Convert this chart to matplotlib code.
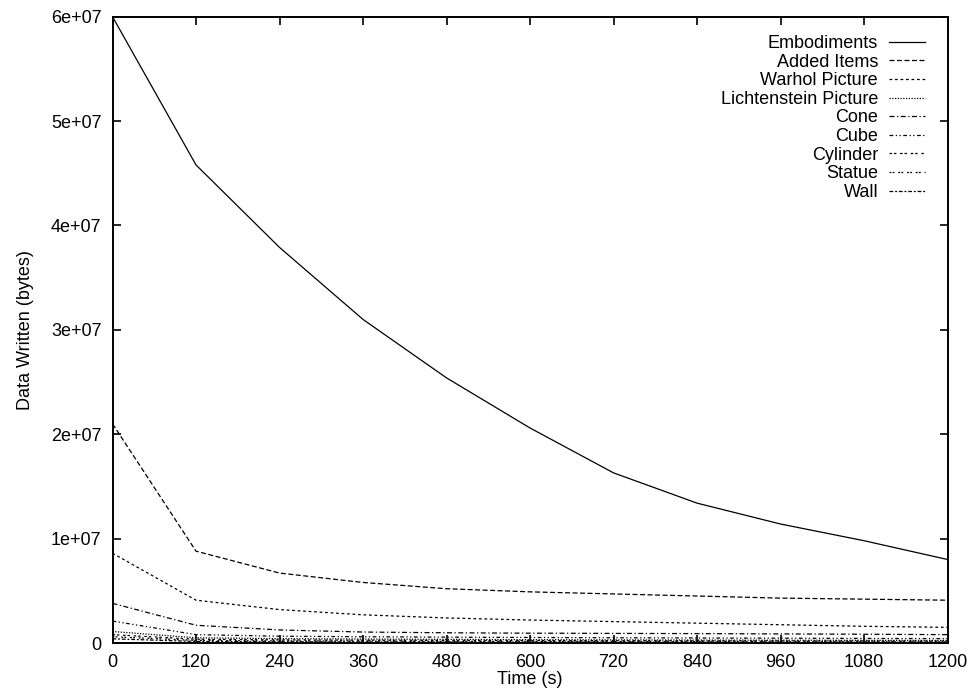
import matplotlib
matplotlib.use("Agg")
import matplotlib.pyplot as plt

plt.rcParams['font.family'] = ['Liberation Sans', 'DejaVu Sans']

time_s = [0, 120, 240, 360, 480, 600, 720, 840, 960, 1080, 1200]

embodiments = [6.0e7, 4.58e7, 3.79e7, 3.10e7, 2.54e7, 2.06e7, 1.63e7, 1.34e7, 1.14e7, 0.98e7, 0.80e7]
added_items = [2.10e7, 0.88e7, 0.67e7, 0.58e7, 0.52e7, 0.49e7, 0.47e7, 0.45e7, 0.43e7, 0.42e7, 0.41e7]
warhol = [8.6e6, 4.1e6, 3.2e6, 2.7e6, 2.4e6, 2.2e6, 2.05e6, 1.9e6, 1.75e6, 1.6e6, 1.5e6]
lichtenstein = [1.1e6, 0.5e6, 0.42e6, 0.38e6, 0.35e6, 0.32e6, 0.3e6, 0.28e6, 0.27e6, 0.26e6, 0.25e6]
cone = [3.8e6, 1.7e6, 1.25e6, 1.05e6, 0.98e6, 0.94e6, 0.92e6, 0.9e6, 0.87e6, 0.84e6, 0.8e6]
cube = [2.1e6, 0.8e6, 0.65e6, 0.6e6, 0.56e6, 0.53e6, 0.5e6, 0.48e6, 0.46e6, 0.44e6, 0.42e6]
cylinder = [0.8e6, 0.36e6, 0.3e6, 0.27e6, 0.25e6, 0.23e6, 0.22e6, 0.21e6, 0.2e6, 0.19e6, 0.18e6]
statue = [0.6e6, 0.25e6, 0.2e6, 0.18e6, 0.16e6, 0.15e6, 0.14e6, 0.13e6, 0.12e6, 0.12e6, 0.11e6]
wall = [0.4e6, 0.15e6, 0.12e6, 0.1e6, 0.09e6, 0.08e6, 0.08e6, 0.07e6, 0.07e6, 0.06e6, 0.06e6]

series_names = ["Embodiments", "Added Items", "Warhol Picture", "Lichtenstein Picture",
                "Cone", "Cube", "Cylinder", "Statue", "Wall"]
series_values = [embodiments, added_items, warhol, lichtenstein, cone, cube, cylinder, statue, wall]
styles = ['-', (0, (4, 2)), (0, (2.2, 2.2)), (0, (1, 1.2)), (0, (4, 2, 1, 2)),
          (0, (3, 2, 1, 2, 1, 2)), (0, (2, 1.5, 2, 3)), (0, (1.5, 1, 1.5, 3)), (0, (3, 1.5, 1.5, 1.5))]

x_ticks = [0, 120, 240, 360, 480, 600, 720, 840, 960, 1080, 1200]
y_ticks = [0, 1e7, 2e7, 3e7, 4e7, 5e7, 6e7]
y_tick_labels = ["0", "1e+07", "2e+07", "3e+07", "4e+07", "5e+07", "6e+07"]

fig = plt.figure(figsize=(9.68, 6.91), dpi=100)
ax = fig.add_axes([112.5 / 968, 1 - 643 / 691, 835 / 968, (643 - 16.7) / 691])

for name, vals, ls in zip(series_names, series_values, styles):
    ax.plot(time_s, vals, color='black', linestyle=ls, linewidth=0.9, label=name)

ax.set_xlim(0, 1200)
ax.set_ylim(0, 6e7)
ax.set_xticks(x_ticks)
ax.set_xticklabels([str(t) for t in x_ticks])
ax.set_yticks(y_ticks)
ax.set_yticklabels(y_tick_labels)
ax.tick_params(direction='in', length=6, width=1.2, top=True, right=True,
               labelsize=13, pad=8)
for sp in ax.spines.values():
    sp.set_linewidth(1.4)

ax.set_xlabel("Time (s)", fontsize=13, labelpad=0)
ax.set_ylabel("Data Written (bytes)", fontsize=13, labelpad=12)

leg = ax.legend(loc='upper right', bbox_to_anchor=(925 / 968, 1 - 35 / 691),
                bbox_transform=fig.transFigure, frameon=False, markerfirst=False,
                fontsize=13, handlelength=2.0, handletextpad=0.6,
                labelspacing=0.09, borderpad=0, borderaxespad=0)

fig.savefig("out.png", dpi=100)
